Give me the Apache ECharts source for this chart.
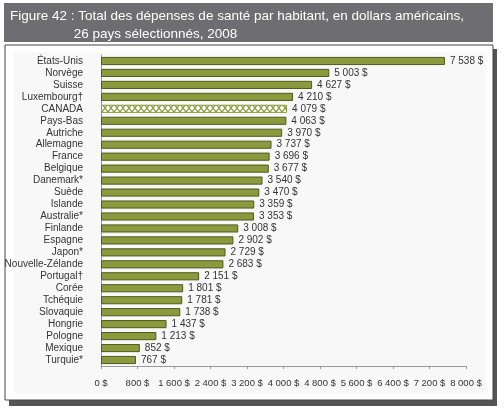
<!DOCTYPE html>
<html>
<head>
<meta charset="utf-8">
<script src="https://cdn.jsdelivr.net/npm/echarts@6/dist/echarts.min.js"></script>
<style>
  html, body { margin: 0; padding: 0; background: #fff; }
  #chart { width: 504px; height: 410px; }
</style>
</head>
<body>
<div id="chart"></div>
<script>
"use strict";

/* ---------- Data ---------- */
const countries = ["États-Unis", "Norvège", "Suisse", "Luxembourg†", "CANADA", "Pays-Bas",
  "Autriche", "Allemagne", "France", "Belgique", "Danemark*", "Suède", "Islande",
  "Australie*", "Finlande", "Espagne", "Japon*", "Nouvelle-Zélande", "Portugal†",
  "Corée", "Tchéquie", "Slovaquie", "Hongrie", "Pologne", "Mexique", "Turquie*"];
const spending = [7538, 5003, 4627, 4210, 4079, 4063, 3970, 3737, 3696, 3677, 3540, 3470,
  3359, 3353, 3008, 2902, 2729, 2683, 2151, 1801, 1781, 1738, 1437, 1213, 852, 767];
const highlight = "CANADA";
const titleText = "Figure 42 : Total des dépenses de santé par habitant, en dollars américains,\n                 26 pays sélectionnés, 2008";

/* ---------- Colours / fonts ---------- */
const C = { bar: "#8b9a3c", border: "#4f5a1e", text: "#333", axis: "#9a9a9a", head: "#6e6e72" };
const FONT = '"Liberation Sans", Arial, sans-serif';

// "1 600 $"
const money = v => String(Math.round(v)).replace(/\B(?=(\d{3})+(?!\d))/g, " ") + " $";

// Canada hatch pattern (white with green crosses)
function hatch() {
  const cv = document.createElement("canvas");
  cv.width = 6; cv.height = 8;
  const g = cv.getContext("2d");
  g.fillStyle = "#fff"; g.fillRect(0, 0, 6, 8);
  g.strokeStyle = C.bar; g.lineWidth = 1.3;
  g.beginPath();
  g.moveTo(0, 0); g.lineTo(6, 8);
  g.moveTo(6, 0); g.lineTo(0, 8);
  g.stroke();
  return cv;
}

const chart = echarts.init(document.getElementById("chart"));
chart.setOption({
  animation: false,
  textStyle: { fontFamily: FONT },
  graphic: [
    // frame + shadow
    { type: "rect", shape: { x: 9, y: 49, width: 488, height: 357 }, style: { fill: "#555" }, z: -10 },
    { type: "rect", shape: { x: 5, y: 45, width: 488, height: 355 }, style: { fill: "#fff", stroke: "#444", lineWidth: 1 }, z: -9 },
    { type: "rect", shape: { x: 14, y: 52, width: 472, height: 342 }, style: { fill: "#f8f8f8" }, z: -8 },
    // header band
    { type: "rect", shape: { x: 4, y: 3, width: 489, height: 39 }, style: { fill: C.head }, z: -9 },
    {
      type: "text", left: 10, top: 7, z: 10,
      style: { text: titleText, fill: "#fff", font: '13.5px "Liberation Sans", Arial, sans-serif', lineHeight: 18 }
    }
  ],
  grid: { left: 101, right: 38, top: 55, bottom: 44 },
  xAxis: {
    type: "value", min: 0, max: 8000, interval: 800,
    splitLine: { show: false },
    axisLine: { show: true, lineStyle: { color: C.axis } },
    axisTick: { show: true, length: 3, lineStyle: { color: C.axis } },
    axisLabel: { color: C.text, fontSize: 9.5, margin: 12, formatter: money, showMaxLabel: true, hideOverlap: false }
  },
  yAxis: {
    type: "category", inverse: true, data: countries,
    axisLine: { lineStyle: { color: C.axis } },
    axisTick: { length: 3, lineStyle: { color: C.axis } },
    axisLabel: { color: C.text, fontSize: 10, margin: 18, interval: 0 }
  },
  series: [{
    type: "bar",
    barCategoryGap: "32%",
    data: spending.map((v, i) => countries[i] === highlight
      ? { value: v, itemStyle: { color: { image: hatch(), repeat: "repeat" }, borderColor: C.bar } }
      : v),
    itemStyle: { color: C.bar, borderColor: C.border, borderWidth: 1 },
    label: { show: true, position: "right", distance: 5, color: C.text, fontSize: 10, formatter: p => money(p.value) }
  }]
});
</script>
</body>
</html>
